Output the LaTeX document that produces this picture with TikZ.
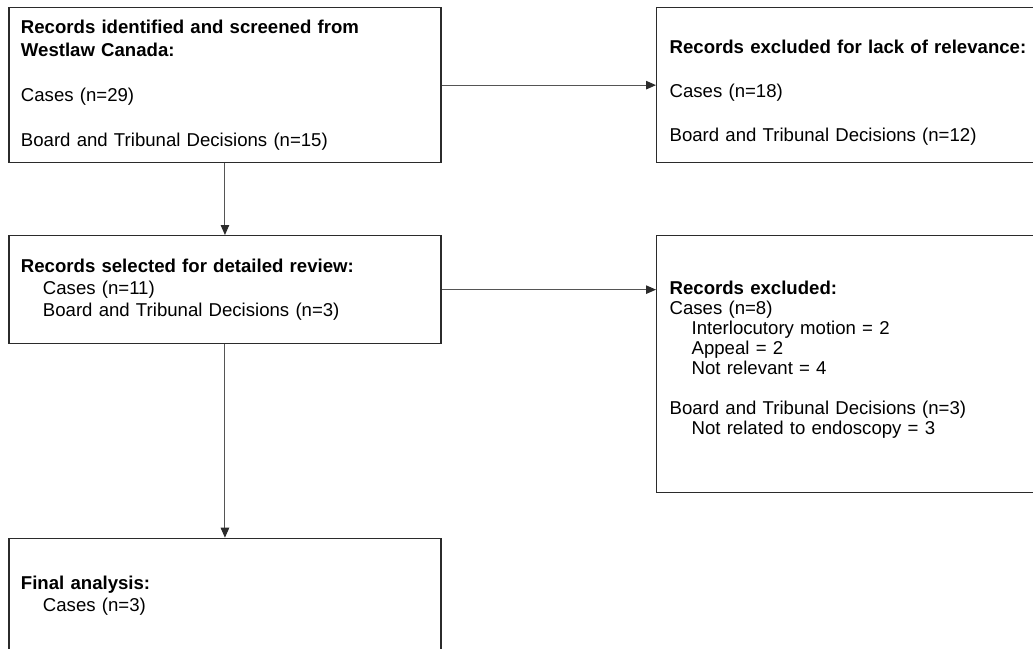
\documentclass[tikz,border=0pt]{standalone}
\usepackage{fontspec}
\setmainfont{Liberation Sans}
\usetikzlibrary{arrows.meta,positioning,calc}
\definecolor{Edge}{HTML}{2B2B2B}
\definecolor{Wire}{HTML}{555555}
\newcommand{\Ind}{\hspace*{22pt}}
\newcommand{\Gap}{\\[\baselineskip]}
\tikzset{
  recbox/.style={draw=Edge,line width=1.3pt,anchor=north west,align=left,
    inner xsep=12pt,inner ysep=0pt,
    font=\fontsize{18.6}{22}\selectfont},
  flow/.style={draw=Wire,line width=1pt,-{Triangle[length=10pt,width=8.5pt,color=Edge]}}
}
\begin{document}
\begin{tikzpicture}[x=1pt,y=-1pt]
\useasboundingbox (0,0) rectangle (1033,648);
\clip (0,0) rectangle (1033,648);
\fill[white] (0,0) rectangle (1033,648);
% left column
\node[recbox,font=\fontsize{18.6}{22.6}\selectfont,text width=408pt,minimum height=155pt] (ident) at (8.3,7)
  {\textbf{Records identified and screened from}\\\textbf{Westlaw Canada:}\Gap
   Cases (n=29)\Gap
   Board and Tribunal Decisions (n=15)};
\node[recbox,text width=408pt,minimum height=108pt] (review) at (8.3,235)
  {\textbf{Records selected for detailed review:}\\
   \Ind Cases (n=11)\\
   \Ind Board and Tribunal Decisions (n=3)};
\node[recbox,text width=408pt,minimum height=115pt] (final) at (8.3,537.7)
  {\textbf{Final analysis:}\\
   \Ind Cases (n=3)};
% right column
\node[recbox,inner xsep=13pt,text width=380pt,minimum height=155pt] (irrel) at (656,7)
  {\mbox{}\\[7.5pt]\textbf{Records excluded for lack of relevance:}\Gap
   Cases (n=18)\Gap
   Board and Tribunal Decisions (n=12)};
\node[recbox,inner xsep=13pt,font=\fontsize{18.6}{20}\selectfont,text width=380pt,minimum height=257pt] (excl) at (656,235)
  {\textbf{Records excluded:}\\
   Cases (n=8)\\
   \Ind Interlocutory motion = 2\\
   \Ind Appeal = 2\\
   \Ind Not relevant = 4\Gap
   Board and Tribunal Decisions (n=3)\\
   \Ind Not related to endoscopy = 3\\[-7pt]\mbox{}};
% connectors
\draw[flow] (ident.east) -- (ident.east -| irrel.west);
\draw[flow] (review.east) -- (review.east -| excl.west);
\draw[flow] (ident.south) -- (review.north);
\draw[flow] (review.south) -- (final.north);
\end{tikzpicture}
\end{document}
